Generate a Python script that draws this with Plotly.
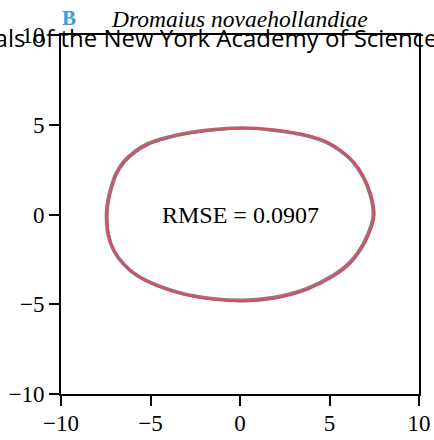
import plotly.graph_objects as go

# Egg outline (grey) and the fitted model curve (red)
outline_x = [7.45, 7.26, 6.89, 6.33, 5.59, 4.84, 3.72, 1.86, 0.17, -1.12, -2.79, -4.09,
             -5.21, -5.87, -6.50, -6.94, -7.20, -7.38, -7.46, -7.38, -7.06, -6.52, -5.77,
             -4.65, -3.17, -1.49, 0.28, 1.86, 3.72, 5.21, 6.15, 6.89, 7.36, 7.45]
outline_y = [0.04, 1.15, 2.07, 2.91, 3.56, 4.02, 4.39, 4.70, 4.82, 4.76, 4.57, 4.29,
             3.92, 3.52, 2.95, 2.26, 1.52, 0.78, 0.06, -1.07, -2.00, -2.74, -3.39,
             -3.94, -4.41, -4.69, -4.78, -4.63, -4.13, -3.39, -2.65, -1.63, -0.52, 0.04]

model_x = [7.52, 7.33, 6.95, 6.38, 5.64, 4.88, 3.76, 1.90, 0.21, -1.07, -2.74, -4.04,
           -5.15, -5.81, -6.44, -6.88, -7.14, -7.32, -7.40, -7.32, -7.01, -6.47, -5.72,
           -4.60, -3.12, -1.44, 0.32, 1.91, 3.77, 5.26, 6.21, 6.95, 7.42, 7.52]
model_y = [0.02, 1.13, 2.06, 2.91, 3.57, 4.04, 4.41, 4.72, 4.80, 4.72, 4.52, 4.24,
           3.87, 3.47, 2.90, 2.22, 1.49, 0.76, 0.04, -1.09, -2.03, -2.78, -3.43,
           -3.99, -4.46, -4.75, -4.84, -4.69, -4.19, -3.44, -2.69, -1.66, -0.54, 0.02]

rmse_text = "RMSE = 0.0907"
species = "Dromaius novaehollandiae"
panel = "B"
journal = "Annals of the New York Academy of Sciences"

tick_vals = [-10, -5, 0, 5, 10]
tick_text = ["\u221210", "\u22125", "0", "5", "10"]

serif = "Liberation Serif, Times New Roman, serif"

# plot area in pixels
L, R, T, B = 61, 419, 35, 394
W, H = 434, 440


def px(xp, yp):
    """Convert a pixel position on the page to paper coordinates."""
    return (xp - L) / (R - L), (B - yp) / (B - T)


fig = go.Figure()
fig.add_trace(go.Scatter(x=outline_x, y=outline_y, mode="lines",
                         line=dict(color="#808080", width=3.6, shape="spline", smoothing=0.9),
                         hoverinfo="skip", showlegend=False))
fig.add_trace(go.Scatter(x=model_x, y=model_y, mode="lines",
                         line=dict(color="#E4475F", width=2, shape="spline", smoothing=0.9),
                         hoverinfo="skip", showlegend=False))

axis_common = dict(range=[-10, 10], tickvals=tick_vals, ticktext=tick_text,
                   showgrid=False, zeroline=False, showline=True, mirror=True,
                   linecolor="black", linewidth=2, ticks="outside", ticklen=10,
                   tickwidth=2, tickcolor="black", automargin=False,
                   tickfont=dict(family=serif, size=23, color="black"))

fig.update_xaxes(**axis_common, ticklabelstandoff=-3)
fig.update_yaxes(**axis_common)

fig.add_annotation(x=0, y=0, xref="x", yref="y", text=rmse_text, showarrow=False,
                   xanchor="center", yanchor="middle",
                   font=dict(family=serif, size=24, color="black"))

headers = [
    ("<i>" + species + "</i>", 239, 19, dict(family=serif, size=23.5, color="black")),
    ("<b>" + panel + "</b>", 69, 18, dict(family=serif, size=21, color="#3A9BE0")),
    (journal, 199, 38, dict(family="Open Sans, sans-serif", size=24, color="black")),
]
for text, xp, yp, font in headers:
    xa, ya = px(xp, yp)
    fig.add_annotation(x=xa, y=ya, xref="paper", yref="paper", text=text,
                       showarrow=False, xanchor="center", yanchor="middle", font=font)

fig.update_layout(width=W, height=H, autosize=False,
                  margin=dict(l=L, r=W - R, t=T, b=H - B),
                  plot_bgcolor="white", paper_bgcolor="white")

fig.write_html("out.html")
